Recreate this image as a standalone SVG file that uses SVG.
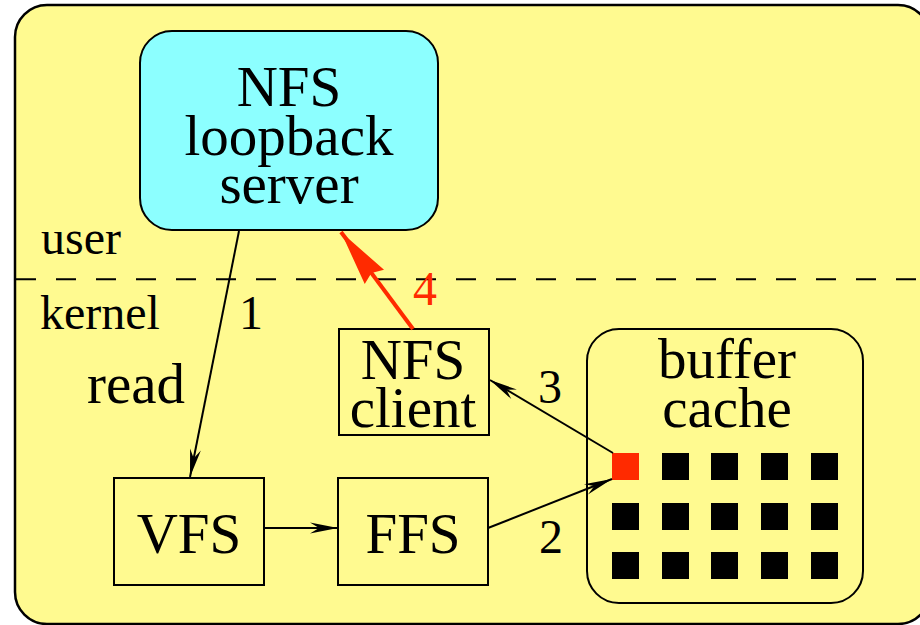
<svg xmlns="http://www.w3.org/2000/svg" width="920" height="625" viewBox="0 0 920 625">
<style>
  .big{font-family:"Liberation Serif","Times New Roman",serif;font-size:57px;fill:#000;text-anchor:middle}
  .lbl{font-family:"Liberation Serif","Times New Roman",serif;font-size:48px;fill:#000}
  .num{font-family:"Liberation Serif","Times New Roman",serif;font-size:48px;fill:#000;text-anchor:middle}
  .box{fill:none;stroke:#000;stroke-width:2}
  .sq{fill:#000}
  .conn{fill:none;stroke:#000;stroke-width:2}
</style>
<defs>
  <marker id="ah" markerUnits="userSpaceOnUse" orient="auto" markerWidth="40" markerHeight="20" refX="0" refY="0" viewBox="-30 -10 32 20" overflow="visible">
    <path d="M0,0 L-28,-5.5 L-19,0 L-28,5.5 Z" fill="#000"/>
  </marker>
  <marker id="ahr" markerUnits="userSpaceOnUse" orient="auto" markerWidth="70" markerHeight="30" refX="0" refY="0" viewBox="-60 -15 62 30" overflow="visible">
    <path d="M0,0 L-56,-12 L-51,0 L-56,12 Z" fill="#FF2A00"/>
  </marker>
</defs>

<g id="kernel-area">
  <rect x="15" y="5" width="915" height="619" rx="32" ry="32" fill="#FFFA90" stroke="#000" stroke-width="2.5"/>
  <line x1="16" y1="279.3" x2="920" y2="279.3" stroke="#000" stroke-width="2" stroke-dasharray="20 20"/>
  <text class="lbl" x="41" y="254">user</text>
  <text class="lbl" x="40" y="329">kernel</text>
</g>

<g id="nfs-server">
  <rect x="140" y="31" width="298" height="199" rx="32" ry="32" fill="#8CFFFF" stroke="#000" stroke-width="2"/>
  <text class="big" x="289" y="106">NFS</text>
  <text class="big" x="289" y="155">loopback</text>
  <text class="big" x="289" y="203">server</text>
</g>

<g id="nfs-client">
  <rect class="box" x="339" y="329" width="150" height="106"/>
  <text class="big" x="413" y="379">NFS</text>
  <text class="big" x="413" y="427">client</text>
</g>

<g id="vfs">
  <rect class="box" x="114" y="478" width="150" height="107"/>
  <text class="big" x="189" y="553">VFS</text>
</g>

<g id="ffs">
  <rect class="box" x="338" y="478" width="150" height="107"/>
  <text class="big" x="413" y="553">FFS</text>
</g>

<g id="buffer-cache">
  <rect class="box" x="587" y="329" width="276" height="274" rx="32" ry="32"/>
  <text class="big" x="727" y="378">buffer</text>
  <text class="big" x="727" y="427">cache</text>
  <rect x="612" y="453" width="27" height="27" fill="#FF2A00"/>
  <rect class="sq" x="662" y="453" width="27" height="27"/>
  <rect class="sq" x="711" y="453" width="27" height="27"/>
  <rect class="sq" x="761" y="453" width="27" height="27"/>
  <rect class="sq" x="811" y="453" width="27" height="27"/>
  <rect class="sq" x="612" y="503" width="27" height="27"/>
  <rect class="sq" x="662" y="503" width="27" height="27"/>
  <rect class="sq" x="711" y="503" width="27" height="27"/>
  <rect class="sq" x="761" y="503" width="27" height="27"/>
  <rect class="sq" x="811" y="503" width="27" height="27"/>
  <rect class="sq" x="612" y="552" width="27" height="27"/>
  <rect class="sq" x="662" y="552" width="27" height="27"/>
  <rect class="sq" x="711" y="552" width="27" height="27"/>
  <rect class="sq" x="761" y="552" width="27" height="27"/>
  <rect class="sq" x="811" y="552" width="27" height="27"/>
</g>

<g id="connectors">
  <line class="conn" x1="239" y1="231" x2="190" y2="477" marker-end="url(#ah)"/>
  <line class="conn" x1="264" y1="528" x2="338" y2="528" marker-end="url(#ah)"/>
  <line class="conn" x1="488" y1="528" x2="612" y2="479" marker-end="url(#ah)"/>
  <line class="conn" x1="613" y1="453" x2="490" y2="380" marker-end="url(#ah)"/>
  <line x1="413" y1="329" x2="341" y2="232" stroke="#FF2A00" stroke-width="4" marker-end="url(#ahr)"/>
  <text class="num" x="251" y="329">1</text>
  <text class="lbl" x="87" y="403" style="font-size:57px">read</text>
  <text class="num" x="551" y="553">2</text>
  <text class="num" x="550" y="403">3</text>
  <text class="num" x="425" y="305" fill="#FF2A00" style="fill:#FF2A00">4</text>
</g>
</svg>
